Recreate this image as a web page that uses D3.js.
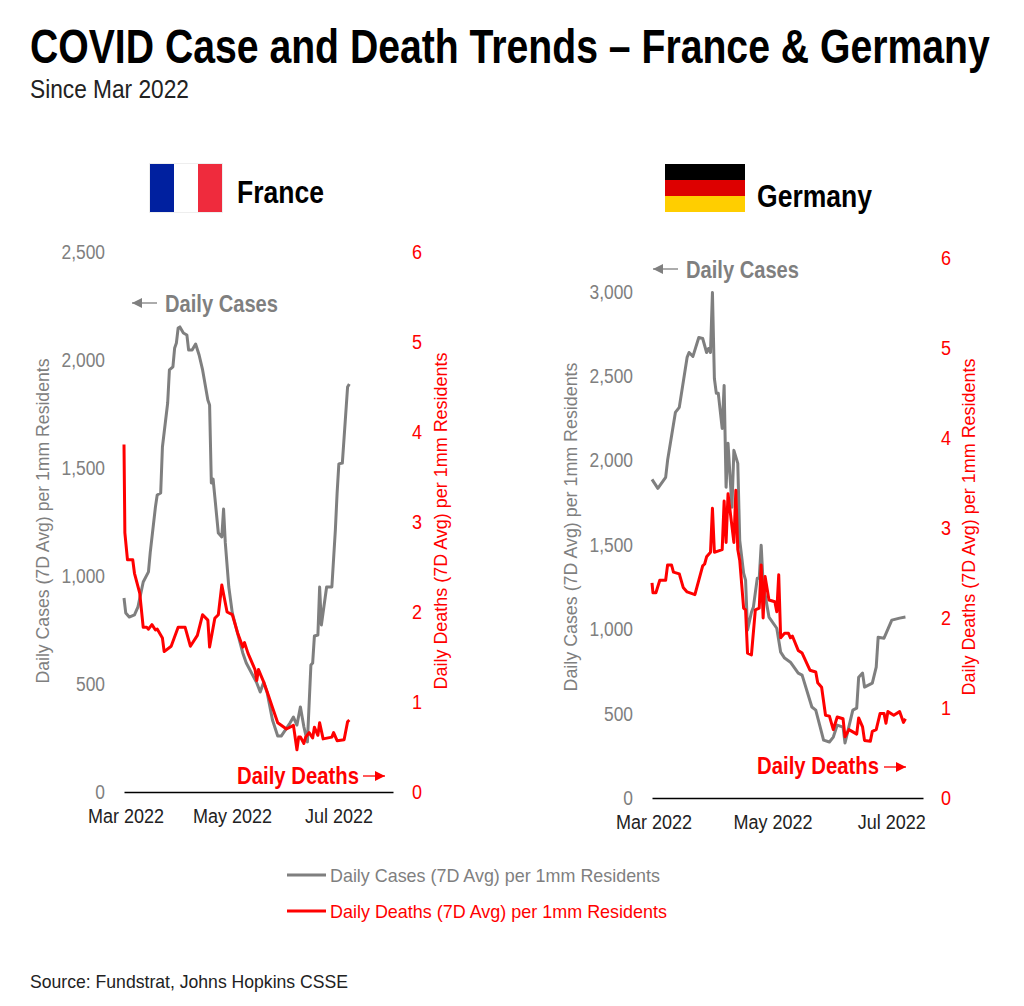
<!DOCTYPE html>
<html><head><meta charset="utf-8">
<script src="https://cdn.jsdelivr.net/npm/d3@7"></script>
<style>html,body{margin:0;padding:0;background:#fff}svg{display:block}
text{font-family:"Liberation Sans",Arial,sans-serif}</style>
</head><body><div id="c"></div>
<script>
const startDate = new Date(2022,2,1);
const tickDates = [new Date(2022,2,1), new Date(2022,4,1), new Date(2022,6,1)];
const frCaseDays = [0,1,3,6,8,11,14,15,18,19,21,22,25,26,28,29,30,31,32,34,36,37,39,41,43,45,48,49,50,51,52,54,56,57,58,60,62,65,68,70,76,78,80,82,85,88,90,95,97,99,101,103,105,107,108,109,111,112,113,116,119,121,122,123,125,128,129];
const frCases = [898,829,810,820,857,972,1019,1107,1320,1375,1384,1597,1801,1954,1968,2056,2079,2148,2153,2125,2116,2046,2046,2074,2023,1954,1815,1792,1431,1449,1366,1199,1181,1310,1153,949,829,736,644,597,505,463,509,458,333,259,259,319,347,310,394,301,232,588,597,722,727,949,773,949,949,1213,1384,1519,1523,1875,1889];
const frDeathDays = [0,0.5,2,5,6,9,11,13,14,16,18,19,22,23,27,31,35,38,42,45,48,49,52,54,56,59,62,65,68,69,71,75,76,77,80,82,85,88,93,97,99,100,101,103,104,106,108,109,111,112,114,119,120,122,126,128,129];
const frDeaths = [3.86,2.88,2.58,2.58,2.43,2.21,1.83,1.83,1.81,1.86,1.80,1.81,1.71,1.56,1.62,1.83,1.83,1.62,1.74,1.97,1.91,1.61,1.93,1.97,2.30,2.00,1.97,1.77,1.61,1.66,1.54,1.36,1.24,1.36,1.22,1.11,0.94,0.77,0.70,0.74,0.47,0.61,0.61,0.54,0.61,0.66,0.60,0.72,0.63,0.77,0.59,0.61,0.66,0.57,0.58,0.78,0.80];
const deCaseDays = [0,3,7,8,12,14,18,19,21,24,26,28,29,30,31,32,33,34,36,37,38,39,41,42,44,45,47,48,49,51,52,54,55,56,57,60,64,66,68,71,75,77,82,84,88,91,93,95,98,99,103,105,106,108,109,113,115,116,119,123,127,130];
const deCases = [1888,1835,1900,2001,2285,2315,2611,2640,2617,2729,2723,2640,2664,2640,2996,2486,2398,2398,2190,2445,1841,2102,1723,2060,1983,1527,1332,1291,995,1101,1131,1302,1302,1498,1273,1072,1006,864,829,805,740,728,539,521,343,332,361,432,420,326,521,533,716,740,657,681,776,953,947,1054,1066,1072];
const deDeathDays = [0,0.5,2,4,7,8,10,11,14,16,18,22,26,27,28,30,31,32,36,37,38,39,42,43,44,45,47,48,49,51,53,55,56,57,58,60,63,64,65,66,68,70,71,72,75,77,81,84,85,87,89,91,93,95,98,99,101,105,106,108,109,112,113,115,117,119,120,121,124,127,129,130];
const deDeaths = [2.39,2.28,2.28,2.42,2.42,2.59,2.59,2.51,2.49,2.34,2.29,2.26,2.58,2.60,2.68,2.73,3.22,2.73,2.76,3.30,2.84,3.38,2.84,3.42,2.76,2.64,2.11,2.09,1.61,1.59,2.09,2.11,2.59,2.00,2.46,2.20,2.18,2.07,2.48,1.78,1.83,1.83,1.78,1.80,1.64,1.61,1.42,1.40,1.28,1.23,0.92,0.91,0.76,0.90,0.88,0.68,0.76,0.71,0.89,0.79,0.64,0.63,0.74,0.76,0.94,0.94,0.83,0.96,0.92,0.96,0.84,0.88];
const frLeftTicks = [0,500,1000,1500,2000,2500];
const deLeftTicks = [0,500,1000,1500,2000,2500,3000];
const rightTicks = [0,1,2,3,4,5,6];
const caseLabel = "Daily Cases (7D Avg) per 1mm Residents";
const deathLabel = "Daily Deaths (7D Avg) per 1mm Residents";
const GRAY="#7f7f7f", RED="#ff0000";

const svg=d3.select("#c").append("svg").attr("width",1024).attr("height",1006);
const defs=svg.append("defs");
[["g",GRAY],["r",RED]].forEach(([id,c])=>defs.append("marker").attr("id","arrow"+id).attr("viewBox","0 0 10 10").attr("refX",10).attr("refY",5)
  .attr("markerUnits","userSpaceOnUse").attr("markerWidth",12).attr("markerHeight",10).attr("orient","auto")
  .append("path").attr("d","M0,0L10,5L0,10Z").attr("fill",c));

function label(x,y,t,size,fill,weight,width){
  return svg.append("text").attr("x",x).attr("y",y).attr("font-size",size).attr("fill",fill).attr("font-weight",weight||400)
    .attr("textLength",width).attr("lengthAdjust","spacingAndGlyphs").text(t);
}
function condense(sel,f){
  sel.each(function(){ const n=this.getComputedTextLength();
    d3.select(this).attr("textLength",n*f).attr("lengthAdjust","spacingAndGlyphs"); });
}

// Title: condensed with a horizontal scale, so its box stays inside the page
const titleText=svg.append("text").attr("font-size",48).attr("font-weight",700).attr("fill","#000")
  .text("COVID Case and Death Trends – France & Germany");
titleText.attr("transform",`translate(30,63) scale(${960/titleText.node().getComputedTextLength()},1)`);
label(30,98,"Since Mar 2022",25,"#222",400,159);

function panel(o){
  const x=d3.scaleTime().domain([startDate,d3.timeDay.offset(startDate,o.xMaxDay)]).range([o.x0,o.x1]);
  const yL=d3.scaleLinear().domain([0,o.leftMax]).range([o.y0,o.y1]);
  const yR=d3.scaleLinear().domain([0,6]).range([o.y0,o.y1]);
  const toDate=d=>new Date(startDate.getTime()+d*864e5);
  const xAxis=svg.append("g").attr("transform",`translate(0,${o.y0})`)
    .call(d3.axisBottom(x).tickValues(tickDates).tickSize(0).tickPadding(17).tickFormat(d3.timeFormat("%b %Y")));
  xAxis.select(".domain").attr("stroke","#000").attr("stroke-width",1.6);
  xAxis.selectAll("text").attr("font-size",20).attr("fill","#222").attr("font-family",null).attr("dx",1.5).call(condense,0.9);
  const lA=svg.append("g").attr("transform",`translate(${o.x0-19},0)`)
    .call(d3.axisLeft(yL).tickValues(o.leftTicks).tickSize(0).tickPadding(0).tickFormat(d3.format(",")));
  lA.select(".domain").remove();
  lA.selectAll("text").attr("font-size",20).attr("fill",GRAY).call(condense,0.87);
  const rA=svg.append("g").attr("transform",`translate(${o.x1+o.rightDx},0)`)
    .call(d3.axisRight(yR).tickValues(rightTicks).tickSize(0).tickPadding(0).tickFormat(d3.format("d")));
  rA.select(".domain").remove();
  rA.selectAll("text").attr("font-size",20).attr("fill",RED).call(condense,0.9);
  svg.selectAll(".tick text").attr("font-family",'"Liberation Sans"');

  const lc=d3.line().x(d=>x(toDate(d[0]))).y(d=>yL(d[1]));
  const ld=d3.line().x(d=>x(toDate(d[0]))).y(d=>yR(d[1]));
  svg.append("path").attr("d",lc(d3.zip(o.caseDays,o.cases))).attr("fill","none").attr("stroke",GRAY).attr("stroke-width",3).attr("stroke-linejoin","round");
  svg.append("path").attr("d",ld(d3.zip(o.deathDays,o.deaths))).attr("fill","none").attr("stroke",RED).attr("stroke-width",3).attr("stroke-linejoin","round");

  [[o.leftTitleX,caseLabel,GRAY,o.caseTitleW],[o.rightTitleX,deathLabel,RED,337]].forEach(([tx,t,c,w])=>{
    svg.append("text").attr("transform",`translate(${tx},${o.titleCy}) rotate(-90)`).attr("text-anchor","middle")
      .attr("font-size",18).attr("fill",c).attr("textLength",w).attr("lengthAdjust","spacingAndGlyphs").text(t);
  });
  label(o.caseLbl[0],o.caseLbl[1],"Daily Cases",24,GRAY,700,113);
  svg.append("line").attr("x1",o.caseArrow[0]).attr("x2",o.caseArrow[1]).attr("y1",o.caseArrow[2]).attr("y2",o.caseArrow[2]).attr("stroke",GRAY).attr("stroke-width",1.3).attr("marker-end","url(#arrowg)");
  label(o.deathLbl[0],o.deathLbl[1],"Daily Deaths",24,RED,700,122);
  svg.append("line").attr("x1",o.deathArrow[0]).attr("x2",o.deathArrow[1]).attr("y1",o.deathArrow[2]).attr("y2",o.deathArrow[2]).attr("stroke",RED).attr("stroke-width",1.3).attr("marker-end","url(#arrowr)");
  label(o.nameX,o.nameY,o.name,31,"#000",700,o.nameW);
}

panel({x0:124,x1:393,y0:792,y1:252,xMaxDay:154,leftMax:2500,leftTicks:frLeftTicks,caseDays:frCaseDays,cases:frCases,deathDays:frDeathDays,deaths:frDeaths,rightDx:19,
  leftTitleX:49,rightTitleX:447,titleCy:521,caseTitleW:325,caseLbl:[165,312],caseArrow:[157,132,303],deathLbl:[237,784],deathArrow:[363,385,776],name:"France",nameX:237,nameY:203,nameW:87});
panel({x0:652,x1:923,y0:798,y1:258,xMaxDay:139,leftMax:3200,leftTicks:deLeftTicks,caseDays:deCaseDays,cases:deCases,deathDays:deDeathDays,deaths:deDeaths,rightDx:18,
  leftTitleX:577,rightTitleX:975,titleCy:527,caseTitleW:329,caseLbl:[686,278],caseArrow:[678,653,269],deathLbl:[757,774],deathArrow:[884,906,767],name:"Germany",nameX:757,nameY:207,nameW:115});

const frFlag=["#00209f","#ffffff","#ef2b3d"], deFlag=["#000000","#dd0000","#ffce00"];
svg.append("rect").attr("x",149.5).attr("y",163.5).attr("width",73).attr("height",49).attr("fill","none").attr("stroke","#eeeeee");
frFlag.forEach((c,i)=>svg.append("rect").attr("x",150+i*24).attr("y",164).attr("width",24).attr("height",48).attr("fill",c));
deFlag.forEach((c,i)=>svg.append("rect").attr("x",665).attr("y",164+i*16).attr("width",80).attr("height",16).attr("fill",c));

[[875,GRAY,caseLabel,330],[911,RED,deathLabel,337]].forEach(([y,c,t,w])=>{
  svg.append("line").attr("x1",287).attr("x2",326).attr("y1",y).attr("y2",y).attr("stroke",c).attr("stroke-width",3);
  label(330,y+7,t,19,c,400,w);
});
label(30,988,"Source: Fundstrat, Johns Hopkins CSSE",19,"#222",400,318);
</script></body></html>
